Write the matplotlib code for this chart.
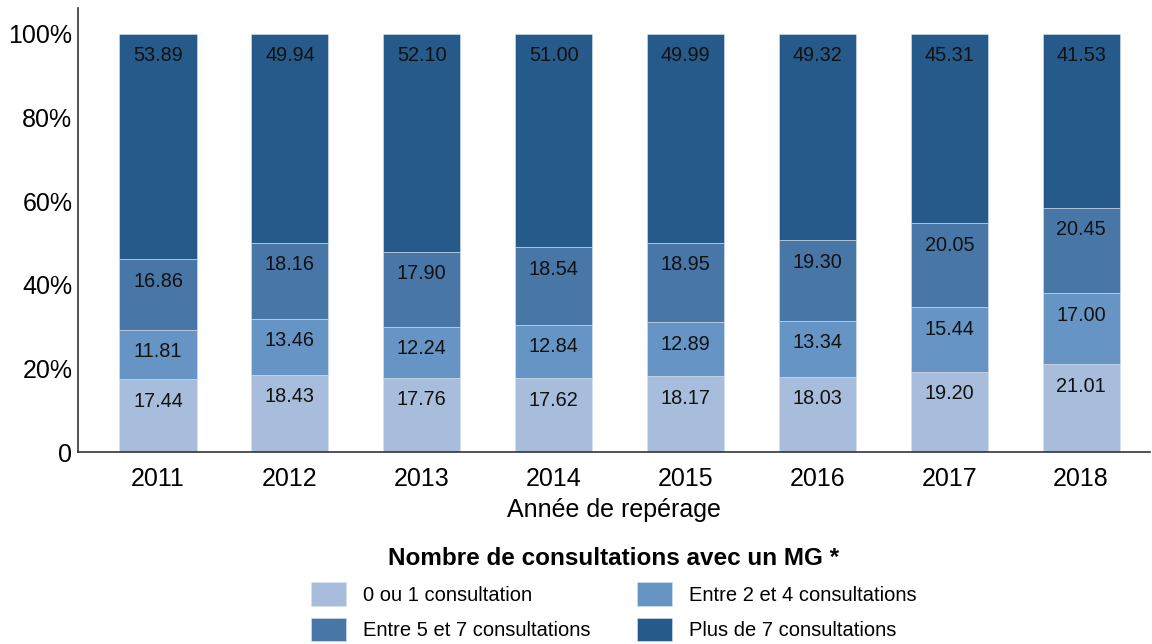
import matplotlib
matplotlib.use("Agg")
import matplotlib.pyplot as plt
import numpy as np

plt.rcParams['font.family'] = ['Liberation Sans', 'DejaVu Sans']

years = ['2011', '2012', '2013', '2014', '2015', '2016', '2017', '2018']
series_names = ['0 ou 1 consultation', 'Entre 2 et 4 consultations',
                'Entre 5 et 7 consultations', 'Plus de 7 consultations']
s_0_1 = [17.44, 18.43, 17.76, 17.62, 18.17, 18.03, 19.20, 21.01]
s_2_4 = [11.81, 13.46, 12.24, 12.84, 12.89, 13.34, 15.44, 17.00]
s_5_7 = [16.86, 18.16, 17.90, 18.54, 18.95, 19.30, 20.05, 20.45]
s_7p = [53.89, 49.94, 52.10, 51.00, 49.99, 49.32, 45.31, 41.53]
colors = ['#a7bddb', '#6694c4', '#4776a7', '#255a8a']
yticks = [0, 20, 40, 60, 80, 100]
ytick_labels = ['0', '20%', '40%', '60%', '80%', '100%']

fig = plt.figure(figsize=(11.52, 6.44), dpi=100)
ax = fig.add_axes([0.0677, 0.298, 0.9303, 0.6896])

x = np.arange(len(years))
bottom = np.zeros(len(years))
handles = []
for vals, col, name in zip([s_0_1, s_2_4, s_5_7, s_7p], colors, series_names):
    vals = np.array(vals)
    b = ax.bar(x, vals, width=0.585, bottom=bottom, color=col,
               edgecolor='#d9e3ef', linewidth=0.4, label=name)
    handles.append(b)
    for xi, top, v in zip(x, bottom + vals, vals):
        ax.annotate(f'{v:.2f}', xy=(xi, top), xytext=(0, -15.8),
                    textcoords='offset points', ha='center', va='center',
                    fontsize=14.3, color='#111111')
    bottom += vals

ax.set_xlim(-0.607, 7.52)
ax.set_ylim(0, 106.2)
ax.set_xticks(x)
ax.set_xticklabels(years, fontsize=18)
ax.set_yticks(yticks)
ax.set_yticklabels(ytick_labels, fontsize=18)
ax.tick_params(axis='x', length=0, pad=11)
ax.tick_params(axis='y', length=0, pad=4)
for s in ['top', 'right']:
    ax.spines[s].set_visible(False)
for s in ['left', 'bottom']:
    ax.spines[s].set_color('#333333')
    ax.spines[s].set_linewidth(1.2)
ax.set_xlabel('Année de repérage', fontsize=18, labelpad=5)

# row-major ordering for a 2-column legend
order = [0, 2, 1, 3]
leg = fig.legend(handles=[handles[i] for i in order],
                 labels=[series_names[i] for i in order],
                 loc='upper center', bbox_to_anchor=(0.533, 0.169), ncol=2,
                 frameon=False, fontsize=14.5,
                 title='Nombre de consultations avec un MG *',
                 title_fontproperties={'weight': 'bold', 'size': 17.5},
                 handlelength=1.75, handleheight=1.4, handletextpad=0.85,
                 columnspacing=2.3, labelspacing=0.6, borderpad=0.1)

fig.savefig('out.png', dpi=100)
